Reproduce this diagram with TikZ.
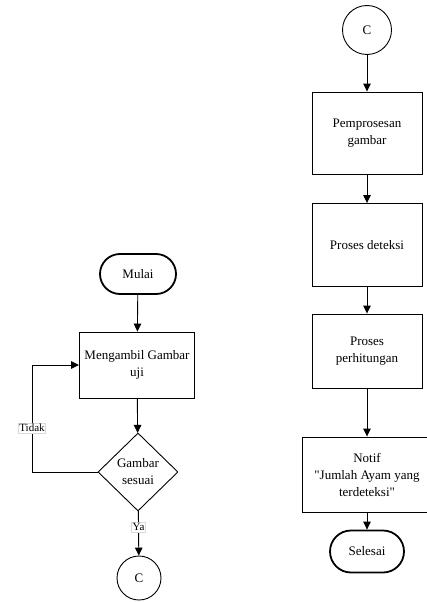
\documentclass[tikz,border=0pt]{standalone}
\usepackage{fontspec}
\setmainfont{Liberation Serif}
\usetikzlibrary{shapes.geometric,shapes.misc,arrows.meta}
\begin{document}
\begin{tikzpicture}[x=1pt,y=-1pt,
  every node/.style={font=\fontsize{13}{17}\selectfont, align=center, inner sep=0pt},
  proc/.style={draw, line width=0.9pt, minimum width=110pt, minimum height=74pt},
  term/.style={draw, rounded rectangle, line width=1.8pt},
  conn/.style={draw, circle, line width=0.9pt},
  dec/.style={draw, diamond, line width=0.9pt, minimum width=80pt, minimum height=78pt, aspect=1.03},
  arr/.style={line width=0.9pt, -{Triangle[length=8pt,width=7.5pt]}},
  lbl/.style={fill=white, draw=black!15, line width=0.4pt, font=\fontsize{11}{13}\selectfont, inner sep=1pt}
]
\useasboundingbox (0,0) rectangle (427,602);
% left column
\node[term, minimum width=76pt, minimum height=40pt] (mulai) at (138,274) {Mulai};
\node[proc, minimum width=115pt, minimum height=66pt] (ambil) at (137,365) {Mengambil Gambar\\uji};
\node[dec] (cek) at (138,472) {Gambar\\sesuai};
\node[conn, minimum size=44pt] (c1) at (139,578) {C};
\coordinate (lp) at (32,472);
\draw[arr] (mulai) -- (ambil);
\draw[arr] (ambil) -- (cek);
\draw[arr] (cek) -- node[lbl, pos=0.36] {Ya} (c1);
\draw[arr] (cek.west) -- (lp) |- node[lbl, pos=0.205] {Tidak} (ambil.west);
% right column
\node[conn, minimum size=49pt] (c2) at (367,30) {C};
\node[proc, minimum height=82pt] (pre) at (367,133) {Pemprosesan\\gambar};
\node[proc, minimum height=83pt] (det) at (367,245) {Proses deteksi};
\node[proc, minimum height=74pt] (hit) at (367,351) {Proses\\perhitungan};
\node[proc, minimum width=130pt, minimum height=75pt] (notif) at (367,474.5) {Notif\\\textquotedbl Jumlah Ayam yang\\terdeteksi\textquotedbl};
\node[term, minimum width=74pt, minimum height=42pt] (selesai) at (367,551.5) {Selesai};
\draw[arr] (c2) -- (pre);
\draw[arr] (pre) -- (det);
\draw[arr] (det) -- (hit);
\draw[arr] (hit) -- (notif);
\draw[arr] (notif) -- (selesai);
\end{tikzpicture}
\end{document}
